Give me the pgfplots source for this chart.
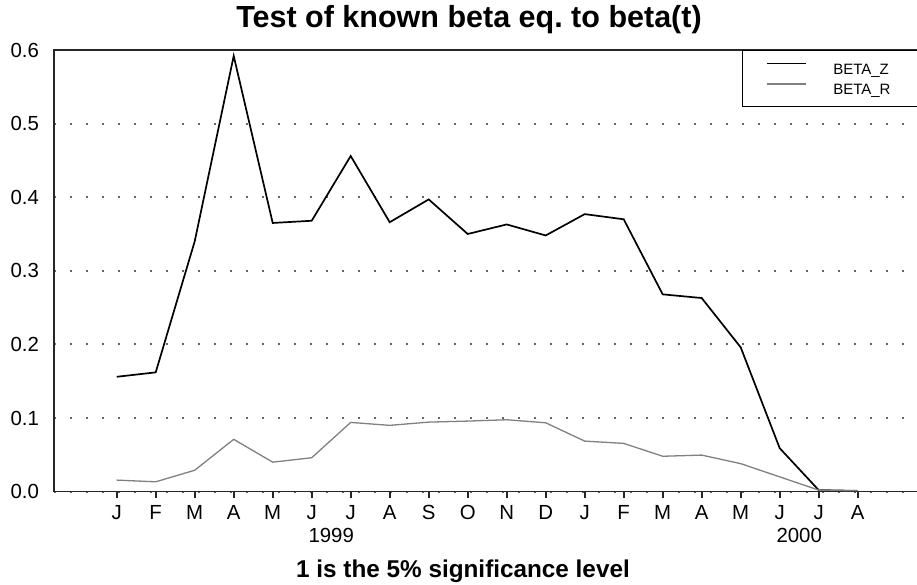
\documentclass[border=0pt]{standalone}
\usepackage{fontspec}
\setmainfont{Liberation Sans}
\usepackage{pgfplots}
\pgfplotsset{compat=1.18}
\begin{document}
\begin{tikzpicture}
\begin{axis}[
  scale only axis,
  width=470.1pt, height=220.8pt,
  xmin=-1.608, xmax=22.5, ymin=0, ymax=0.6,
  clip=false,
  axis line style={line width=0.8pt, black!85},
  xtick={0,...,19},
  xticklabels={J,F,M,A,M,J,J,A,S,O,N,D,J,F,M,A,M,J,J,A},
  xtick pos=bottom,
  xtick align=outside,
  ytick align=inside,
  x tick style={line width=0.8pt, black!85},
  major tick length=3pt,
  ytick={0,0.1,0.2,0.3,0.4,0.5,0.6},
  ytick style={draw=none},
  ymajorgrids,
  grid style={line width=1pt, black!60, dash pattern=on 1pt off 7pt},
  /pgf/number format/assume math mode=true,
  tick label style={font=\fontsize{10.2}{12}\selectfont},
  yticklabel style={/pgf/number format/fixed, /pgf/number format/fixed zerofill, /pgf/number format/precision=1, anchor=east, inner sep=0pt, xshift=-7.35pt},
  xticklabel style={anchor=base, inner sep=0pt, yshift=-10.9pt},
  legend cell align=left,
  legend image code/.code={\draw[#1] (0pt,2.7pt) -- (19.5pt,2.7pt);},
  legend style={at={(0.7318,1)}, anchor=north west, draw=black, line width=0.6pt, fill=white,
    inner xsep=12pt, inner ysep=6pt, row sep=4.6pt,
    font=\fontsize{7.5}{9}\selectfont,
    nodes={inner sep=0pt, text height=5.4pt, text depth=0pt, text width=70pt, align=left},
    /tikz/every odd column/.append style={column sep=13pt}},
]
\addplot[black, line width=0.85pt] coordinates {
(0,0.156)(1,0.162)(2,0.340)(3,0.592)(4,0.365)(5,0.368)(6,0.456)(7,0.366)(8,0.397)(9,0.350)
(10,0.363)(11,0.348)(12,0.377)(13,0.370)(14,0.268)(15,0.263)(16,0.196)(17,0.059)(18,0.002)(19,0.001)};
\addlegendentry{BETA\_Z}
\addplot[black!50, line width=0.65pt] coordinates {
(0,0.0156)(1,0.0133)(2,0.029)(3,0.071)(4,0.040)(5,0.046)(6,0.094)(7,0.090)(8,0.0944)(9,0.0958)
(10,0.0976)(11,0.0935)(12,0.0686)(13,0.0655)(14,0.048)(15,0.0496)(16,0.038)(17,0.020)(18,0.002)(19,0.001)};
\addlegendentry{BETA\_R}
\node[anchor=base, font=\fontsize{10.2}{12}\selectfont, inner sep=0pt] at (axis cs:5.5,0) [yshift=-25.5pt] {1999};
\node[anchor=base, font=\fontsize{10.2}{12}\selectfont, inner sep=0pt] at (axis cs:17.5,0) [yshift=-25.5pt] {2000};
\end{axis}
\node[anchor=base, font=\fontsize{15.25}{18}\selectfont\bfseries] at ([xshift=207.5pt,yshift=11.15pt]current axis.north west) {Test of known beta eq.\ to beta(t)};
\node[anchor=base, font=\fontsize{12.15}{14}\selectfont\bfseries] at ([xshift=204.5pt,yshift=-42.9pt]current axis.south west) {1 is the 5\% significance level};
\pgfresetboundingbox
\path[use as bounding box] ([xshift=-27pt,yshift=-46.25pt]current axis.south west) rectangle ([xshift=431.5pt,yshift=25pt]current axis.north west);
\end{tikzpicture}
\end{document}
